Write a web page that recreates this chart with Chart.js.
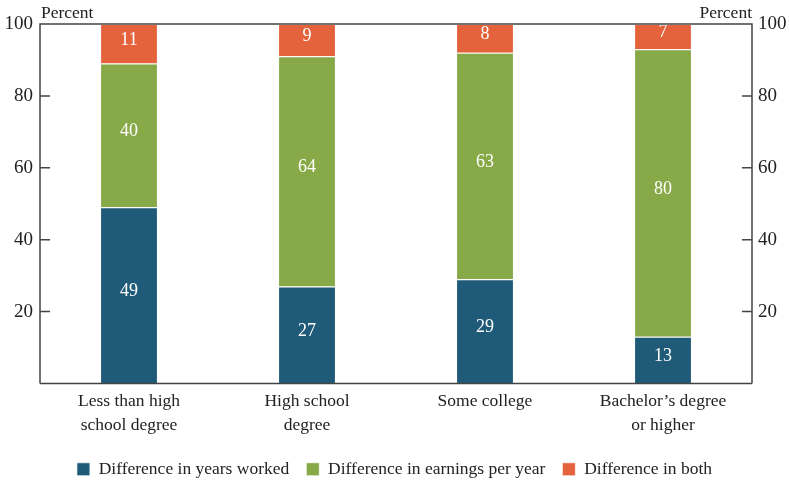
<!DOCTYPE html>
<html>
<head>
<meta charset="utf-8">
<script src="https://cdn.jsdelivr.net/npm/chart.js@4"></script>
<style>
  html, body { margin: 0; padding: 0; background: #fff; }
  #wrap { width: 789px; height: 483px; position: relative; }
</style>
</head>
<body>
<div id="wrap"><canvas id="myBarChart"></canvas></div>
<script>
const categories = [
    ['Less than high', 'school degree'],
    ['High school', 'degree'],
    ['Some college'],
    ['Bachelor\u2019s degree', 'or higher']
];
const years_worked = [49, 27, 29, 13];
const earnings_per_year = [40, 64, 63, 80];
const both = [11, 9, 8, 7];
const y_ticks = [20, 40, 60, 80, 100];

const font_family = '"Liberation Serif", "DejaVu Serif", serif';
const axis_color = '#444444';
const text_color = '#222222';

// value labels in the middle of each segment
const segment_labels = {
    id: 'segment_labels',
    afterDatasetsDraw(chart) {
        const ctx = chart.ctx;
        ctx.save();
        ctx.fillStyle = '#ffffff';
        ctx.font = '18px ' + font_family;
        ctx.textAlign = 'center';
        ctx.textBaseline = 'middle';
        chart.data.datasets.forEach((ds, i) => {
            const meta = chart.getDatasetMeta(i);
            meta.data.forEach((bar, j) => {
                ctx.fillText(String(ds.data[j]), bar.x, (bar.y + bar.base) / 2 - 4);
            });
        });
        ctx.restore();
    }
};

// frame, inward ticks and "Percent" titles
const frame = {
    id: 'frame',
    afterDraw(chart) {
        const ctx = chart.ctx;
        const area = chart.chartArea;
        const y = chart.scales.y;
        ctx.save();
        ctx.strokeStyle = axis_color;
        ctx.lineWidth = 1.5;
        ctx.beginPath();
        ctx.moveTo(area.left, area.bottom);
        ctx.lineTo(area.left, area.top);
        ctx.lineTo(area.right, area.top);
        ctx.lineTo(area.right, area.bottom);
        ctx.moveTo(area.left, area.bottom);
        ctx.lineTo(area.right, area.bottom);
        y_ticks.forEach(v => {
            if (v === 100) return;
            const py = y.getPixelForValue(v);
            ctx.moveTo(area.left, py);
            ctx.lineTo(area.left + 10, py);
            ctx.moveTo(area.right, py);
            ctx.lineTo(area.right - 10, py);
        });
        ctx.stroke();

        ctx.fillStyle = text_color;
        ctx.font = '17.5px ' + font_family;
        ctx.textBaseline = 'alphabetic';
        ctx.textAlign = 'left';
        ctx.fillText('Percent', area.left + 1, area.top - 6);
        ctx.textAlign = 'right';
        ctx.fillText('Percent', area.right, area.top - 6);
        ctx.restore();
    }
};

function bar_graph() {
    const ctx = document.getElementById('myBarChart').getContext('2d');
    const bar_border = 'rgba(255,255,255,0.7)';

    window.myBarChart = new Chart(ctx, {
        type: 'bar',
        data: {
            labels: categories,
            datasets: [{
                label: 'Difference in years worked',
                data: years_worked,
                backgroundColor: '#1f5b78',
                borderColor: bar_border,
                borderWidth: 1
            }, {
                label: 'Difference in earnings per year',
                data: earnings_per_year,
                backgroundColor: '#87a947',
                borderColor: bar_border,
                borderWidth: 1
            }, {
                label: 'Difference in both',
                data: both,
                backgroundColor: '#e4633c',
                borderColor: bar_border,
                borderWidth: 1
            }]
        },
        options: {
            responsive: true,
            maintainAspectRatio: false,
            animation: false,
            datasets: {
                bar: {
                    barPercentage: 0.325,
                    categoryPercentage: 1.0
                }
            },
            layout: {
                padding: { top: 24, left: 0, right: 0, bottom: -5 }
            },
            plugins: {
                legend: {
                    position: 'bottom',
                    labels: {
                        boxWidth: 13,
                        boxHeight: 13,
                        padding: 17,
                        color: text_color,
                        font: { family: font_family, size: 17.5, lineHeight: 1.0 }
                    }
                },
                tooltip: { enabled: false }
            },
            scales: {
                x: {
                    stacked: true,
                    grid: { display: false },
                    border: { display: false },
                    ticks: {
                        color: text_color,
                        font: { family: font_family, size: 17.5, lineHeight: 1.35 },
                        padding: -2,
                        maxRotation: 0
                    },
                    afterFit(scale) { scale.height = 60; }
                },
                y: {
                    stacked: true,
                    min: 0,
                    max: 100,
                    grid: { display: false, drawTicks: false },
                    border: { display: false },
                    ticks: {
                        stepSize: 20,
                        color: text_color,
                        padding: 7,
                        font: { family: font_family, size: 19 },
                        callback: v => (v === 0 ? '' : v)
                    },
                    afterFit(scale) { scale.width = 40; }
                },
                y2: {
                    position: 'right',
                    min: 0,
                    max: 100,
                    grid: { display: false, drawTicks: false },
                    border: { display: false },
                    ticks: {
                        stepSize: 20,
                        color: text_color,
                        padding: 6,
                        font: { family: font_family, size: 19 },
                        callback: v => (v === 0 ? '' : v)
                    },
                    afterFit(scale) { scale.width = 37; }
                }
            }
        },
        plugins: [segment_labels, frame]
    });
}

window.onload = () => {
    bar_graph();
}
</script>
</body>
</html>
